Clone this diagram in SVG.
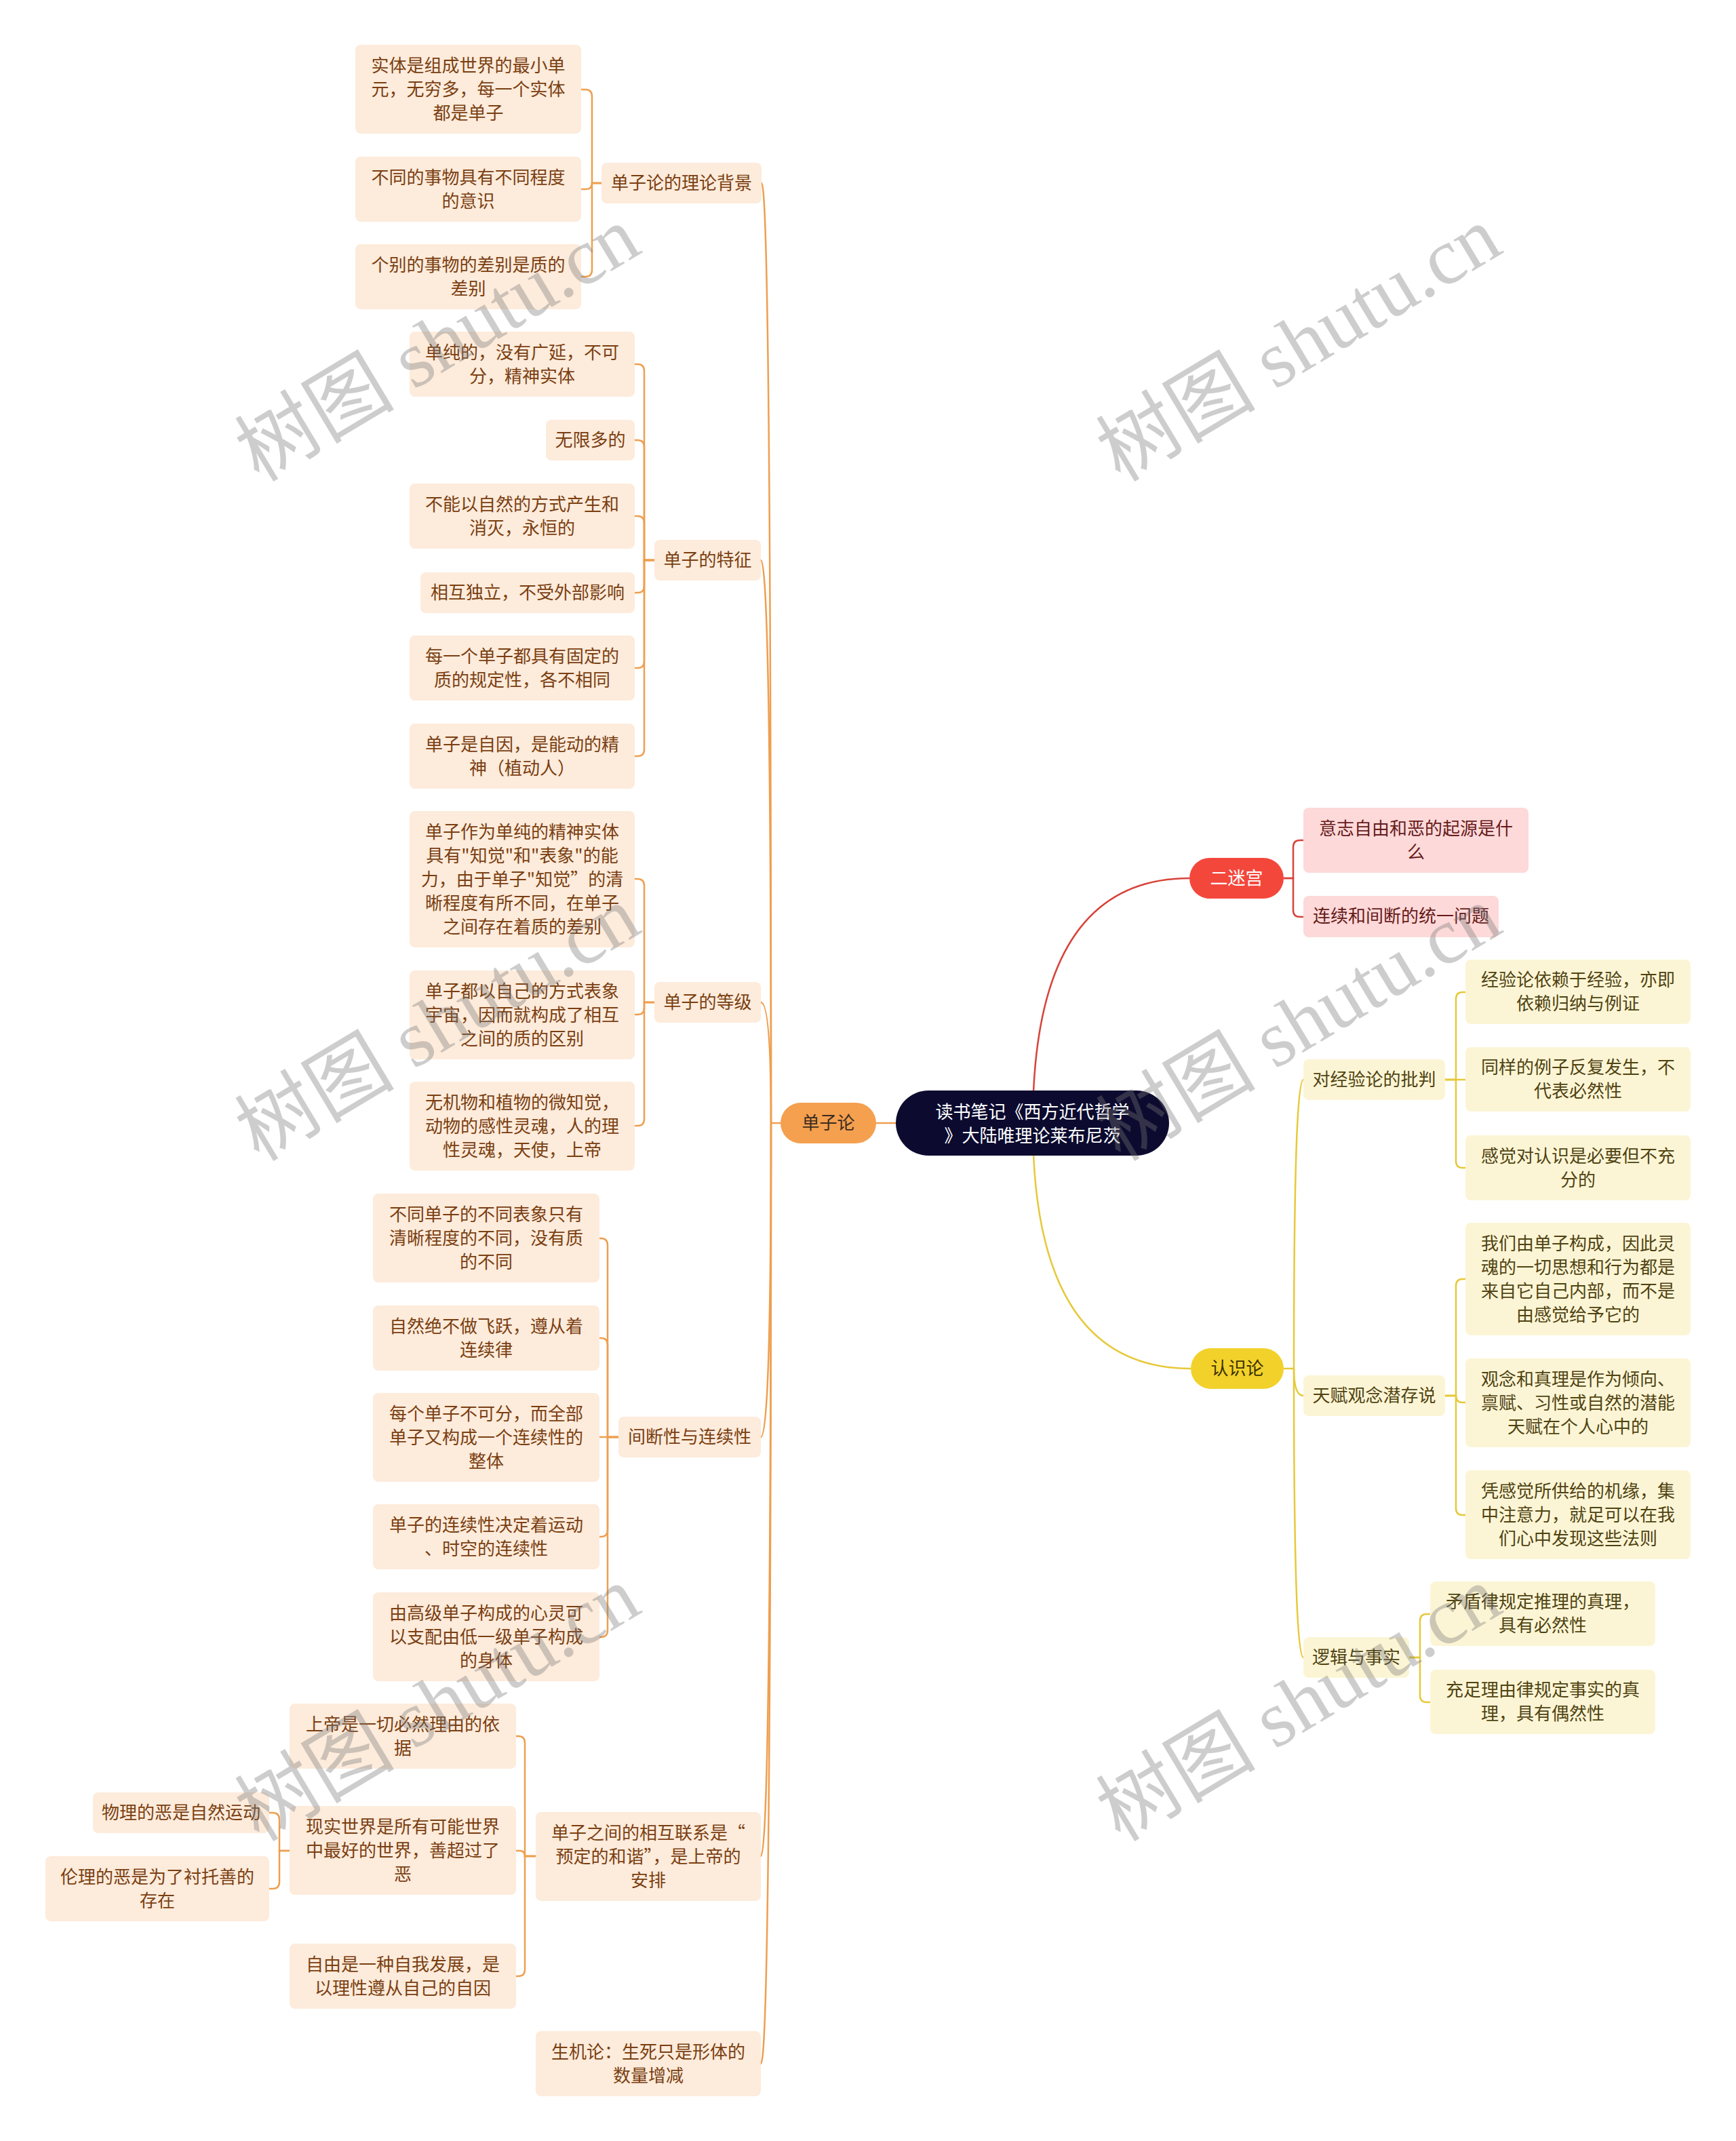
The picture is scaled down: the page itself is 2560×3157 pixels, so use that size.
<svg xmlns="http://www.w3.org/2000/svg" width="2560" height="3157" viewBox="0 0 2560 3157">
<style>
text{font-family:"Noto Sans CJK SC","Noto Sans",sans-serif;font-size:26px;text-anchor:middle;dominant-baseline:central}
.nd text{transform:translateY(-3px)}
.o rect{fill:#fdebdb}.o text{fill:#7a3f12}
.r rect{fill:#fdd9d9}.r text{fill:#661a1a}
.y rect{fill:#fcf5d5}.y text{fill:#4f4312}
.co path{fill:none;stroke:#ee9f4f;stroke-width:2.5}
.cr path{fill:none;stroke:#d7433a;stroke-width:2.5}
.cy path{fill:none;stroke:#e6c93a;stroke-width:2.5}
.wm text{font-family:"Liberation Serif","Noto Sans CJK SC",serif;font-size:118px;fill:#787878;opacity:0.36;text-anchor:start;dominant-baseline:alphabetic}
</style>
<rect width="2560" height="3157" fill="#ffffff"/>
<g id="connectors">
<g class="co">
<path d="M1321 1656 H1292"/>
<path d="M1153 1656 H1137"/>
<path d="M1137 1656 Q1137 270 1123 270"/>
<path d="M1137 1656 Q1137 826 1122 826"/>
<path d="M1137 1656 Q1137 1478 1122 1478"/>
<path d="M1137 1656 Q1137 2119 1122 2119"/>
<path d="M1137 1656 Q1137 2737 1122 2737"/>
<path d="M1137 1656 Q1137 3043 1122 3043"/>
<path d="M887 270 H873 V142 Q873 132 863 132 H857"/>
<path d="M887 270 H873 Q873 279 864 279 H857"/>
<path d="M887 270 H873 V398 Q873 408 863 408 H857"/>
<path d="M965 826 H950 V547 Q950 537 940 537 H936"/>
<path d="M965 826 H950 V659 Q950 649 940 649 H936"/>
<path d="M965 826 H950 V771 Q950 761 940 761 H936"/>
<path d="M965 826 H950 V864 Q950 874 940 874 H936"/>
<path d="M965 826 H950 V975 Q950 985 940 985 H936"/>
<path d="M965 826 H950 V1105 Q950 1115 940 1115 H936"/>
<path d="M965 1478 H950 V1306 Q950 1296 940 1296 H936"/>
<path d="M965 1478 H950 V1486 Q950 1496 940 1496 H936"/>
<path d="M965 1478 H950 V1650 Q950 1660 940 1660 H936"/>
<path d="M912 2119 H896 V1836 Q896 1826 886 1826 H884"/>
<path d="M912 2119 H896 V1983 Q896 1973 886 1973 H884"/>
<path d="M912 2119 H884"/>
<path d="M912 2119 H896 V2256 Q896 2266 886 2266 H884"/>
<path d="M912 2119 H896 V2404 Q896 2414 886 2414 H884"/>
<path d="M790 2737 H774 V2570 Q774 2560 764 2560 H761"/>
<path d="M790 2737 H774 Q774 2729 766 2729 H761"/>
<path d="M790 2737 H774 V2904 Q774 2914 764 2914 H761"/>
<path d="M427 2729 H412 V2683 Q412 2673 402 2673 H397"/>
<path d="M427 2729 H412 V2775 Q412 2785 402 2785 H397"/>
</g>
<g class="cr">
<path d="M1523 1656 Q1523 1295 1754 1295"/>
<path d="M1893 1295 H1907 V1249 Q1907 1239 1917 1239 H1922"/>
<path d="M1893 1295 H1907 V1342 Q1907 1352 1917 1352 H1922"/>
</g>
<g class="cy">
<path d="M1523 1656 Q1523 2018 1756 2018"/>
<path d="M1893 2018 H1908"/>
<path d="M1908 2018 Q1908 1592 1922 1592"/>
<path d="M1908 2018 Q1908 2058 1922 2058"/>
<path d="M1908 2018 Q1908 2444 1922 2444"/>
<path d="M2131 1592 H2147 V1473 Q2147 1463 2157 1463 H2161"/>
<path d="M2131 1592 H2161"/>
<path d="M2131 1592 H2147 V1712 Q2147 1722 2157 1722 H2161"/>
<path d="M2131 2058 H2147 V1896 Q2147 1886 2157 1886 H2161"/>
<path d="M2131 2058 H2147 Q2147 2068 2157 2068 H2161"/>
<path d="M2131 2058 H2147 V2224 Q2147 2234 2157 2234 H2161"/>
<path d="M2078 2444 H2094 V2390 Q2094 2380 2104 2380 H2109"/>
<path d="M2078 2444 H2094 V2500 Q2094 2510 2104 2510 H2109"/>
</g>
</g>

<g class="nd">
<g id="root"><rect x="1321" y="1608" width="403" height="96" rx="48" fill="#0c0b2f"/><text fill="#ffffff"><tspan x="1522.5" y="1640">读书笔记《西方近代哲学</tspan><tspan x="1522.5" y="1675">》大陆唯理论莱布尼茨</tspan></text></g>

<g id="n-danzilun"><rect x="1151" y="1626" width="141" height="60" rx="30" fill="#f4a04f"/><text x="1221.5" y="1656" fill="#3d2b1f">单子论</text></g>
<g id="n-ermigong"><rect x="1754" y="1265" width="139" height="60" rx="30" fill="#f4473c"/><text x="1823.5" y="1295" fill="#ffffff">二迷宫</text></g>
<g id="n-renshilun"><rect x="1756" y="1988" width="137" height="60" rx="30" fill="#f2d12b"/><text x="1824.5" y="2018" fill="#3a3000">认识论</text></g>

<g id="p1" class="o"><rect x="887" y="240" width="236" height="60" rx="8"/><text x="1005" y="270">单子论的理论背景</text></g>
<g id="a1" class="o"><rect x="524" y="66" width="333" height="131" rx="8"/><text><tspan x="690.5" y="96.5">实体是组成世界的最小单</tspan><tspan x="690.5" y="131.5">元，无穷多，每一个实体</tspan><tspan x="690.5" y="166.5">都是单子</tspan></text></g>
<g id="a2" class="o"><rect x="524" y="231" width="333" height="96" rx="8"/><text><tspan x="690.5" y="261.5">不同的事物具有不同程度</tspan><tspan x="690.5" y="296.5">的意识</tspan></text></g>
<g id="a3" class="o"><rect x="524" y="360" width="333" height="96" rx="8"/><text><tspan x="690.5" y="390.5">个别的事物的差别是质的</tspan><tspan x="690.5" y="425.5">差别</tspan></text></g>

<g id="p2" class="o"><rect x="965" y="796" width="157" height="60" rx="8"/><text x="1043.5" y="826">单子的特征</text></g>
<g id="b1" class="o"><rect x="604" y="489" width="332" height="96" rx="8"/><text><tspan x="770" y="519.5">单纯的，没有广延，不可</tspan><tspan x="770" y="554.5">分，精神实体</tspan></text></g>
<g id="b2" class="o"><rect x="805" y="619" width="131" height="60" rx="8"/><text x="870.5" y="649">无限多的</text></g>
<g id="b3" class="o"><rect x="604" y="713" width="332" height="96" rx="8"/><text><tspan x="770" y="743.5">不能以自然的方式产生和</tspan><tspan x="770" y="778.5">消灭，永恒的</tspan></text></g>
<g id="b4" class="o"><rect x="620" y="844" width="316" height="60" rx="8"/><text x="778" y="874">相互独立，不受外部影响</text></g>
<g id="b5" class="o"><rect x="604" y="937" width="332" height="96" rx="8"/><text><tspan x="770" y="967.5">每一个单子都具有固定的</tspan><tspan x="770" y="1002.5">质的规定性，各不相同</tspan></text></g>
<g id="b6" class="o"><rect x="604" y="1067" width="332" height="96" rx="8"/><text><tspan x="770" y="1097.5">单子是自因，是能动的精</tspan><tspan x="770" y="1132.5">神（植动人）</tspan></text></g>

<g id="p3" class="o"><rect x="965" y="1448" width="157" height="60" rx="8"/><text x="1043.5" y="1478">单子的等级</text></g>
<g id="c1" class="o"><rect x="604" y="1196" width="332" height="201" rx="8"/><text><tspan x="770" y="1226.5">单子作为单纯的精神实体</tspan><tspan x="770" y="1261.5">具有"知觉"和"表象"的能</tspan><tspan x="770" y="1296.5">力，由于单子"知觉”的清</tspan><tspan x="770" y="1331.5">晰程度有所不同，在单子</tspan><tspan x="770" y="1366.5">之间存在着质的差别</tspan></text></g>
<g id="c2" class="o"><rect x="604" y="1431" width="332" height="131" rx="8"/><text><tspan x="770" y="1461.5">单子都以自己的方式表象</tspan><tspan x="770" y="1496.5">宇宙，因而就构成了相互</tspan><tspan x="770" y="1531.5">之间的质的区别</tspan></text></g>
<g id="c3" class="o"><rect x="604" y="1595" width="332" height="131" rx="8"/><text><tspan x="770" y="1625.5">无机物和植物的微知觉，</tspan><tspan x="770" y="1660.5">动物的感性灵魂，人的理</tspan><tspan x="770" y="1695.5">性灵魂，天使，上帝</tspan></text></g>

<g id="p4" class="o"><rect x="912" y="2089" width="210" height="60" rx="8"/><text x="1017" y="2119">间断性与连续性</text></g>
<g id="d1" class="o"><rect x="550" y="1760" width="334" height="131" rx="8"/><text><tspan x="717" y="1790.5">不同单子的不同表象只有</tspan><tspan x="717" y="1825.5">清晰程度的不同，没有质</tspan><tspan x="717" y="1860.5">的不同</tspan></text></g>
<g id="d2" class="o"><rect x="550" y="1925" width="334" height="96" rx="8"/><text><tspan x="717" y="1955.5">自然绝不做飞跃，遵从着</tspan><tspan x="717" y="1990.5">连续律</tspan></text></g>
<g id="d3" class="o"><rect x="550" y="2054" width="334" height="131" rx="8"/><text><tspan x="717" y="2084.5">每个单子不可分，而全部</tspan><tspan x="717" y="2119.5">单子又构成一个连续性的</tspan><tspan x="717" y="2154.5">整体</tspan></text></g>
<g id="d4" class="o"><rect x="550" y="2218" width="334" height="96" rx="8"/><text><tspan x="717" y="2248.5">单子的连续性决定着运动</tspan><tspan x="717" y="2283.5">、时空的连续性</tspan></text></g>
<g id="d5" class="o"><rect x="550" y="2348" width="334" height="131" rx="8"/><text><tspan x="717" y="2378.5">由高级单子构成的心灵可</tspan><tspan x="717" y="2413.5">以支配由低一级单子构成</tspan><tspan x="717" y="2448.5">的身体</tspan></text></g>

<g id="p5" class="o"><rect x="790" y="2672" width="332" height="131" rx="8"/><text><tspan x="956" y="2702.5">单子之间的相互联系是“</tspan><tspan x="956" y="2737.5">预定的和谐”，是上帝的</tspan><tspan x="956" y="2772.5">安排</tspan></text></g>
<g id="e1" class="o"><rect x="427" y="2512" width="334" height="96" rx="8"/><text><tspan x="594" y="2542.5">上帝是一切必然理由的依</tspan><tspan x="594" y="2577.5">据</tspan></text></g>
<g id="e2" class="o"><rect x="427" y="2663" width="334" height="131" rx="8"/><text><tspan x="594" y="2693.5">现实世界是所有可能世界</tspan><tspan x="594" y="2728.5">中最好的世界，善超过了</tspan><tspan x="594" y="2763.5">恶</tspan></text></g>
<g id="e3" class="o"><rect x="427" y="2866" width="334" height="96" rx="8"/><text><tspan x="594" y="2896.5">自由是一种自我发展，是</tspan><tspan x="594" y="2931.5">以理性遵从自己的自因</tspan></text></g>
<g id="f1" class="o"><rect x="137" y="2643" width="260" height="60" rx="8"/><text x="267" y="2673">物理的恶是自然运动</text></g>
<g id="f2" class="o"><rect x="67" y="2737" width="330" height="96" rx="8"/><text><tspan x="232" y="2767.5">伦理的恶是为了衬托善的</tspan><tspan x="232" y="2802.5">存在</tspan></text></g>

<g id="p6" class="o"><rect x="790" y="2995" width="332" height="96" rx="8"/><text><tspan x="956" y="3025.5">生机论：生死只是形体的</tspan><tspan x="956" y="3060.5">数量增减</tspan></text></g>

<g id="r1" class="r"><rect x="1922" y="1191" width="332" height="96" rx="8"/><text><tspan x="2088" y="1221.5">意志自由和恶的起源是什</tspan><tspan x="2088" y="1256.5">么</tspan></text></g>
<g id="r2" class="r"><rect x="1922" y="1321" width="288" height="61" rx="8"/><text x="2066" y="1351.5">连续和间断的统一问题</text></g>

<g id="y1" class="y"><rect x="1922" y="1562" width="209" height="60" rx="8"/><text x="2026.5" y="1592">对经验论的批判</text></g>
<g id="y1a" class="y"><rect x="2161" y="1415" width="332" height="95" rx="8"/><text><tspan x="2327" y="1445">经验论依赖于经验，亦即</tspan><tspan x="2327" y="1480">依赖归纳与例证</tspan></text></g>
<g id="y1b" class="y"><rect x="2161" y="1544" width="332" height="95" rx="8"/><text><tspan x="2327" y="1574">同样的例子反复发生，不</tspan><tspan x="2327" y="1609">代表必然性</tspan></text></g>
<g id="y1c" class="y"><rect x="2161" y="1674" width="332" height="96" rx="8"/><text><tspan x="2327" y="1704.5">感觉对认识是必要但不充</tspan><tspan x="2327" y="1739.5">分的</tspan></text></g>

<g id="y2" class="y"><rect x="1922" y="2028" width="209" height="60" rx="8"/><text x="2026.5" y="2058">天赋观念潜存说</text></g>
<g id="y2a" class="y"><rect x="2161" y="1803" width="332" height="166" rx="8"/><text><tspan x="2327" y="1833.5">我们由单子构成，因此灵</tspan><tspan x="2327" y="1868.5">魂的一切思想和行为都是</tspan><tspan x="2327" y="1903.5">来自它自己内部，而不是</tspan><tspan x="2327" y="1938.5">由感觉给予它的</tspan></text></g>
<g id="y2b" class="y"><rect x="2161" y="2003" width="332" height="131" rx="8"/><text><tspan x="2327" y="2033.5">观念和真理是作为倾向、</tspan><tspan x="2327" y="2068.5">禀赋、习性或自然的潜能</tspan><tspan x="2327" y="2103.5">天赋在个人心中的</tspan></text></g>
<g id="y2c" class="y"><rect x="2161" y="2168" width="332" height="131" rx="8"/><text><tspan x="2327" y="2198.5">凭感觉所供给的机缘，集</tspan><tspan x="2327" y="2233.5">中注意力，就足可以在我</tspan><tspan x="2327" y="2268.5">们心中发现这些法则</tspan></text></g>

<g id="y3" class="y"><rect x="1922" y="2414" width="156" height="60" rx="8"/><text x="2000" y="2444">逻辑与事实</text></g>
<g id="y3a" class="y"><rect x="2109" y="2332" width="332" height="95" rx="8"/><text><tspan x="2275" y="2362">矛盾律规定推理的真理，</tspan><tspan x="2275" y="2397">具有必然性</tspan></text></g>
<g id="y3b" class="y"><rect x="2109" y="2462" width="332" height="95" rx="8"/><text><tspan x="2275" y="2492">充足理由律规定事实的真</tspan><tspan x="2275" y="2527">理，具有偶然性</tspan></text></g>
</g>

<g class="wm">
<text transform="translate(382 712) rotate(-31)">树图 shutu.cn</text>
<text transform="translate(1652 712) rotate(-31)">树图 shutu.cn</text>
<text transform="translate(382 1714) rotate(-31)">树图 shutu.cn</text>
<text transform="translate(1652 1714) rotate(-31)">树图 shutu.cn</text>
<text transform="translate(382 2717) rotate(-31)">树图 shutu.cn</text>
<text transform="translate(1652 2717) rotate(-31)">树图 shutu.cn</text>
</g>
</svg>
